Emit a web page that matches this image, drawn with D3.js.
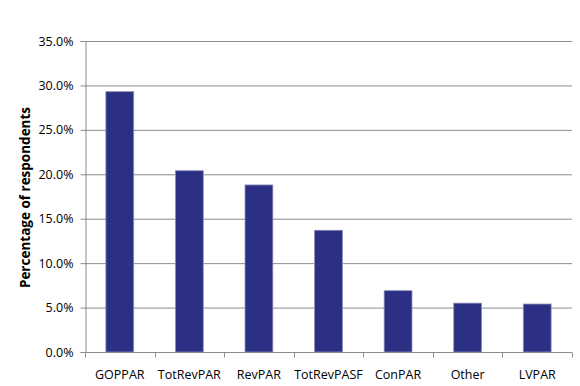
<!DOCTYPE html>
<html>
<head>
<meta charset="utf-8">
<script src="https://cdn.jsdelivr.net/npm/d3@7"></script>
<style>
  body { margin: 0; background: #fff; }
  text { font-family: "Open Sans", "Liberation Sans", sans-serif; fill: #000; }
</style>
</head>
<body>
<div id="chart"></div>
<script>
var categories = ["GOPPAR", "TotRevPAR", "RevPAR", "TotRevPASF", "ConPAR", "Other", "LVPAR"];
var values = [29.3, 20.4, 18.8, 13.7, 6.9, 5.5, 5.4];
var yTicks = [0, 5, 10, 15, 20, 25, 30, 35];

var margin = {top: 41, right: 8, bottom: 34, left: 85};
var width = 580 - margin.left - margin.right;
var height = 386 - margin.top - margin.bottom;

var svg = d3.select("#chart")
  .append("svg")
    .attr("width", 580)
    .attr("height", 386)
  .append("g")
    .attr("transform", "translate(" + margin.left + "," + margin.top + ")");

var x = d3.scaleBand()
  .domain(categories)
  .range([0, width])
  .paddingInner(0.6)
  .paddingOuter(0.3);

var y = d3.scaleLinear()
  .domain([0, 35])
  .range([height, 0]);

// gridlines
svg.append("g")
  .selectAll("line")
  .data(yTicks.slice(1))
  .enter()
  .append("line")
    .attr("x1", 0)
    .attr("x2", width)
    .attr("y1", function(d) { return y(d) + 0.5; })
    .attr("y2", function(d) { return y(d) + 0.5; })
    .attr("stroke", "#8c8c8c")
    .attr("stroke-width", 1);

// y axis
var yAxis = svg.append("g")
  .attr("transform", "translate(0.5,0)")
  .call(d3.axisLeft(y).tickValues(yTicks).tickSize(5).tickPadding(7)
    .tickFormat(function(d) { return d.toFixed(1) + "%"; }));
yAxis.selectAll("path, line").attr("stroke", "#8c8c8c");
yAxis.selectAll("text").style("font-size", "12.5px");

// bars (soft grey edge like the original shadow)
svg.append("g")
  .selectAll("rect")
  .data(values)
  .enter()
  .append("rect")
    .attr("x", function(d, i) { return x(categories[i]); })
    .attr("y", function(d) { return y(d); })
    .attr("width", x.bandwidth())
    .attr("height", function(d) { return height - y(d); })
    .attr("fill", "#2b3084")
    .attr("stroke", "#8d90b8")
    .attr("stroke-width", 0.8);

// x axis
var band = width / categories.length;
var xAxis = svg.append("g")
  .attr("transform", "translate(0," + (height + 0.5) + ")");
xAxis.append("line")
  .attr("x1", 0).attr("x2", width)
  .attr("stroke", "#8c8c8c");
xAxis.selectAll(".tk")
  .data(d3.range(categories.length + 1))
  .enter()
  .append("line")
    .attr("x1", function(d) { return Math.round(d * band) + 0.5; })
    .attr("x2", function(d) { return Math.round(d * band) + 0.5; })
    .attr("y1", 0)
    .attr("y2", 5)
    .attr("stroke", "#8c8c8c");
xAxis.selectAll("text")
  .data(categories)
  .enter()
  .append("text")
    .attr("x", function(d) { return x(d) + x.bandwidth() / 2; })
    .attr("y", 26)
    .attr("text-anchor", "middle")
    .style("font-size", "12.5px")
    .text(function(d) { return d; });

// y axis title
svg.append("text")
  .attr("transform", "rotate(-90)")
  .attr("x", -height / 2 - 1)
  .attr("y", -margin.left + 30)
  .attr("text-anchor", "middle")
  .style("font-size", "13.5px")
  .style("font-weight", "bold")
  .text("Percentage of respondents");
</script>
</body>
</html>
